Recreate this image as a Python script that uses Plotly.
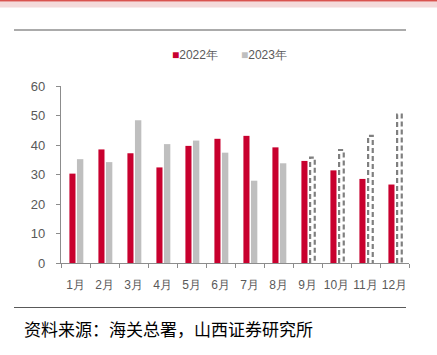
import plotly.graph_objects as go

months = ["1月", "2月", "3月", "4月", "5月", "6月", "7月", "8月", "9月", "10月", "11月", "12月"]
y2022 = [30.3, 38.5, 37.2, 32.4, 39.7, 42.1, 43.1, 39.2, 34.6, 31.4, 28.5, 26.6]
y2023_actual = [35.2, 34.2, 48.4, 40.3, 41.5, 37.4, 27.9, 33.8]
y2023_est = [35.7, 38.3, 43.1, 50.3]  # dashed (Sep-Dec)
series_names = ["2022年", "2023年"]

RED = "#C8002E"
GRAY = "#BFBFBF"
DASH = "#7F7F7F"
FONT = "Liberation Sans, Arial, sans-serif"

xi = list(range(len(months)))
n_act = len(y2023_actual)

fig = go.Figure()
fig.add_trace(go.Bar(x=xi, y=y2022, name=series_names[0], marker=dict(color=RED, line=dict(width=0)),
                     offset=-0.21, width=0.21, showlegend=False))
fig.add_trace(go.Bar(x=xi[:n_act], y=y2023_actual, name=series_names[1], marker=dict(color=GRAY, line=dict(width=0)),
                     offset=0.05, width=0.22, showlegend=False))

# dashed outlines for Sep-Dec 2023
dx, dy = [], []
for k, v in enumerate(y2023_est):
    i = xi[n_act + k]
    a, b = i + 0.09, i + 0.25
    dx += [a, a, b, b, None]
    dy += [0, v, v, 0, None]
fig.add_trace(go.Scatter(x=dx, y=dy, mode="lines", showlegend=False, hoverinfo="skip",
                         line=dict(color=DASH, width=2.2, dash="5px,3px")))

L, R, T, B = 61, 28, 86, 92
PW, PH = 437 - L - R, 355 - T - B

def px(x):
    return (x - L) / PW

def py(y):
    return (355 - B - y) / PH

shapes = [
    dict(type="rect", xref="paper", yref="paper", x0=px(0), x1=px(437), y0=py(1.5), y1=py(7.5),
         fillcolor="#F4DADA", line=dict(width=0), layer="below"),
    dict(type="rect", xref="paper", yref="paper", x0=px(0), x1=px(437), y0=py(0), y1=py(1.5),
         fillcolor="#D9534F", line=dict(width=0), layer="below"),
    dict(type="line", xref="paper", yref="paper", x0=px(14), x1=px(406), y0=py(30), y1=py(30),
         line=dict(color="#595959", width=1.2)),
    dict(type="line", xref="paper", yref="paper", x0=px(14), x1=px(406), y0=py(307.5), y1=py(307.5),
         line=dict(color="#595959", width=1.2)),
]

def legend_item(name, color, xpix):
    return dict(text=f"<span style='color:{color};font-size:12px'>■</span>{name}",
                xref="paper", yref="paper", x=px(xpix), y=py(55), xanchor="left", yanchor="middle",
                showarrow=False, font=dict(family=FONT, size=12, color="#595959"))

annotations = [
    legend_item(series_names[0], RED, 170),
    legend_item(series_names[1], GRAY, 239),
    dict(text="资料来源：海关总署，山西证券研究所", xref="paper", yref="paper",
         x=px(22), y=py(328), xanchor="left", yanchor="middle", showarrow=False,
         font=dict(family="Noto Sans CJK SC", size=17, color="#000000")),
]

fig.update_layout(
    width=437, height=355,
    margin=dict(l=L, r=R, t=T, b=B),
    paper_bgcolor="white", plot_bgcolor="white",
    barmode="overlay",
    font=dict(family=FONT, size=12, color="#595959"),
    showlegend=False,
    shapes=shapes,
    annotations=annotations,
)
fig.update_xaxes(range=[-0.5, 11.5], tickmode="array", tickvals=xi, ticktext=months,
                 ticks="", showgrid=False, zeroline=False,
                 showline=True, linecolor="#8C8C8C", linewidth=1.3,
                 tickfont=dict(size=12, color="#595959"), ticklabelstandoff=10,
                 minor=dict(ticks="outside", tick0=-0.5, dtick=1, ticklen=4, tickcolor="#8C8C8C", tickwidth=1.3))
fig.update_yaxes(range=[0, 60], dtick=10, showgrid=False, zeroline=False,
                 showline=True, linecolor="#8C8C8C", linewidth=1.3,
                 ticks="outside", ticklen=4, tickcolor="#8C8C8C", tickwidth=1.3,
                 tickfont=dict(size=13, color="#595959"), ticklabelstandoff=8)

fig.write_html("out.html", config={"displayModeBar": False},
               post_script="document.body.style.margin='0';document.body.style.overflow='hidden';")
